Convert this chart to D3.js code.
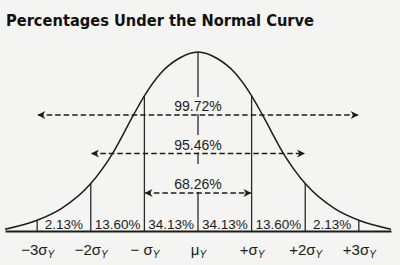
<!DOCTYPE html>
<html>
<head>
<meta charset="utf-8">
<script src="https://cdn.jsdelivr.net/npm/d3@7"></script>
<style>
  html, body { margin: 0; padding: 0; background: #f4f4f2; }
  svg { display: block; }
</style>
</head>
<body>
<svg id="chart" width="400" height="265"></svg>
<script>
// data
const curveZ = [-3.6, -3, -2.55, -2, -1.6, -1.2, -1, -0.7, -0.35, 0, 0.35, 0.7, 1, 1.2, 1.6, 2, 2.55, 3, 3.6];
const curveH = [0.01, 0.06, 0.125, 0.265, 0.43, 0.65, 0.755, 0.88, 0.965, 1, 0.965, 0.88, 0.755, 0.65, 0.43, 0.265, 0.125, 0.06, 0.01];
const edges = [-3, -2, -1, 0, 1, 2, 3];
const segLabels = ["2.13%", "13.60%", "34.13%", "34.13%", "13.60%", "2.13%"];
const spanZ = [3, 2, 1];
const spanLabels = ["99.72%", "95.46%", "68.26%"];
const tickNames = ["\u22123\u03c3", "\u22122\u03c3", "\u2212 \u03c3", "\u03bc", "+\u03c3", "+2\u03c3", "+3\u03c3"];

const svg = d3.select("#chart");
const ink = "#1c1c1c";
const font = "'Liberation Sans', Arial, sans-serif";

const x = d3.scaleLinear().domain([-3.6, 3.6]).range([5, 391]);
const y = d3.scaleLinear().domain([0, 1]).range([231, 52]);

const hAt = (z) => curveH[curveZ.indexOf(z)];

// title
svg.append("text")
  .attr("x", 6)
  .attr("y", 26)
  .attr("font-family", "'DejaVu Sans', sans-serif")
  .attr("font-weight", "bold")
  .attr("font-size", 15.5)
  .attr("textLength", 308)
  .attr("lengthAdjust", "spacingAndGlyphs")
  .attr("fill", "#111")
  .text("Percentages Under the Normal Curve");

// arrow markers
const defs = svg.append("defs");
["end", "start"].forEach((k) => {
  defs.append("marker")
    .attr("id", "arr-" + k)
    .attr("viewBox", "0 0 10 10")
    .attr("refX", 9)
    .attr("refY", 5)
    .attr("markerWidth", 9)
    .attr("markerHeight", 8)
    .attr("markerUnits", "userSpaceOnUse")
    .attr("orient", k === "end" ? "auto" : "auto-start-reverse")
    .append("path")
    .attr("d", "M0,0L10,5L0,10L3,5Z")
    .attr("fill", ink);
});

// vertical lines at the sigma marks
svg.append("g")
  .selectAll("line")
  .data(edges)
  .join("line")
  .attr("x1", (d) => x(d))
  .attr("x2", (d) => x(d))
  .attr("y1", y(0))
  .attr("y2", (d) => y(hAt(d)))
  .attr("stroke", "#2a2a2a")
  .attr("stroke-width", 1.3);

// curve
const line = d3.line()
  .x((d, i) => x(curveZ[i]))
  .y((d) => y(d))
  .curve(d3.curveMonotoneX);

svg.append("path")
  .attr("d", line(curveH))
  .attr("fill", "none")
  .attr("stroke", ink)
  .attr("stroke-width", 1.5);

// range arrows and their labels
const arrowY = [115, 153.5, 193];
const labelY = [111, 150, 189];
const gapTop = [97, 135, 164];

const spans = svg.append("g");
spans.selectAll("rect")
  .data(spanZ)
  .join("rect")
  .attr("x", x(0) - 26)
  .attr("width", 52)
  .attr("y", (d, i) => gapTop[i])
  .attr("height", (d, i) => arrowY[i] - gapTop[i] - 1)
  .attr("fill", "#f4f4f2");

spans.selectAll("line")
  .data(spanZ)
  .join("line")
  .attr("x1", (d) => x(-d) + 1)
  .attr("x2", (d) => x(d) - 1)
  .attr("y1", (d, i) => arrowY[i])
  .attr("y2", (d, i) => arrowY[i])
  .attr("stroke", ink)
  .attr("stroke-width", 1.3)
  .attr("stroke-dasharray", "5.5,3")
  .attr("marker-start", "url(#arr-start)")
  .attr("marker-end", "url(#arr-end)");

spans.selectAll("text")
  .data(spanLabels)
  .join("text")
  .attr("x", x(0))
  .attr("y", (d, i) => labelY[i])
  .attr("text-anchor", "middle")
  .attr("font-family", font)
  .attr("font-size", 14)
  .attr("fill", ink)
  .text((d) => d);

// segment percentages
svg.append("g")
  .selectAll("text")
  .data(segLabels)
  .join("text")
  .attr("x", (d, i) => (x(edges[i]) + x(edges[i + 1])) / 2)
  .attr("y", 229)
  .attr("text-anchor", "middle")
  .attr("font-family", font)
  .attr("font-size", 13.5)
  .attr("fill", ink)
  .text((d) => d);

// axis
const axis = d3.axisBottom(x)
  .tickValues(edges)
  .tickSize(0)
  .tickSizeOuter(0)
  .tickPadding(13);

const ax = svg.append("g")
  .attr("transform", `translate(0,${y(0)})`)
  .call(axis);

ax.select(".domain").attr("stroke", ink).attr("stroke-width", 2);
ax.selectAll(".tick text")
  .attr("font-family", font)
  .attr("font-size", 15)
  .attr("fill", ink)
  .text(null)
  .each(function (d, i) {
    const t = d3.select(this);
    t.append("tspan").text(tickNames[i]);
    t.append("tspan")
      .attr("font-size", 10)
      .attr("font-style", "italic")
      .attr("dy", 3)
      .text("Y");
  });
</script>
</body>
</html>
